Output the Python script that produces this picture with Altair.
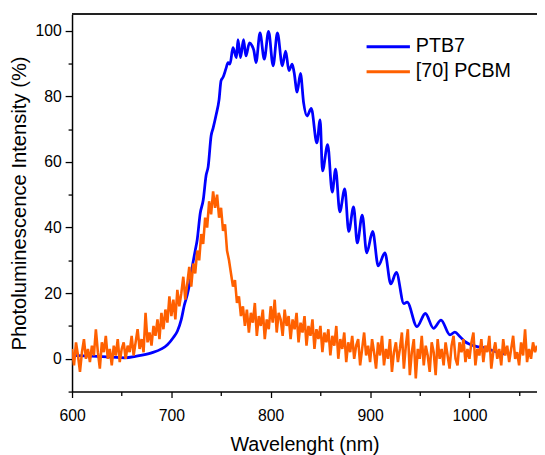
import altair as alt
import pandas as pd

# ---- data ----
series_names = ["PTB7", "[70] PCBM"]
series_colors = ["#0000FF", "#FF6000"]

ptb7_nm = [600, 620, 640, 653, 665, 680, 690, 696, 702, 706, 710, 713, 716, 718, 721, 724, 726, 729, 732, 735,
           737, 740, 742, 745, 748, 750, 752, 755, 757, 759, 762, 765.5, 767, 769.6, 772.6, 775, 778.6, 781, 783,
           785.2, 789.2, 793.5, 797.8, 802.4, 806.7, 811.7, 815, 818.3, 821.6, 823.5, 826.6, 829.9, 833.1, 836.5,
           840.8, 846.4, 849.7, 852.1, 857.3, 861.9, 865.3, 869.5, 874.5, 878.5, 883.4, 887.1, 892.1, 896.6,
           902.6, 908.2, 914.9, 920.8, 926.4, 934, 937.3, 947.2, 955.6, 963.8, 971.4, 980.4, 985.3, 990.3, 995.2,
           1006.7, 1016.7, 1025, 1035]
ptb7_val = [1.0, 0.8, 0.5, 0.3, 0.8, 1.8, 3.0, 4.3, 6.5, 8.4, 12, 16.3, 19.5, 22.3, 28, 33, 36.3, 44.3, 48.3, 56,
            58.5, 68, 70.3, 74.3, 79, 84.8, 85.8, 88.5, 90.3, 89.8, 94.8, 91.8, 97.3, 91.8, 97.3, 92.3, 96.3, 95.5, 94,
            90.3, 99.3, 91.3, 99.8, 89.3, 99.3, 89.3, 93.8, 87.8, 89.8, 87.3, 81.3, 87, 78, 74,
            76.3, 65.8, 72.8, 57.3, 65.3, 50.8, 57.8, 44.8, 51.8, 38.8, 46.3, 35.3, 43.8, 32.3,
            38.8, 28.3, 32.3, 22.8, 26.3, 16.8, 17.3, 9.8, 13.8, 9.3, 11.8, 7.3, 8.1, 6.8, 5.3,
            3.8, 3.3, 2.3, 1.5]

pcbm_nm = list(range(600, 1070, 2))
pcbm_val = [
    3, -2, 5, 1, -4, 2, 6, 0, 3, -1,
    4, 1, 9, 2, -3, 5, 2, 7, 0, 3,
    -2, 4, 1, 6, -1, 3, 5, 0, 4, 2,
    7, 1, 5, 9, 3, 6, 2, 14, 5, 8,
    4, 10, 7, 12, 6, 14, 9, 15, 11, 19,
    13, 18, 12, 21, 16, 20, 25, 18, 23, 28,
    22, 29, 26, 33, 30, 38, 35, 43, 40, 48,
    44, 51, 46, 50, 43, 46, 39, 41, 33, 30,
    26, 22, 24, 17, 19, 13, 16, 10, 15, 8,
    14, 11, 17, 7, 13, 10, 15, 6, 12, 9,
    16, 11, 18, 8, 14, 12, 7, 15, 10, 13,
    6, 12, 9, 14, 5, 11, 8, 13, 4, 10,
    7, 12, 3, 9, 6, 10, 2, 8, 5, 9,
    1, 7, 4, 10, 0, 6, 3, 8, -1, 5,
    2, 7, 0, 4, 6, -2, 3, 8, 1, 4,
    -1, 6, 2, -3, 5, 1, 7, -2, 3, 0,
    6, -4, 2, 5, -1, 3, 8, -3, 4, 9,
    -5, 2, 6, -6, 3, 0, 7, -2, 4, 1,
    -4, 5, 2, -5, 6, 0, 3, -2, 5, 1,
    -3, 4, 7, 0, -2, 5, 2, 6, -1, 3,
    0, 5, 8, -2, 3, 1, 6, -1, 4, 2,
    7, -3, 2, 5, 0, 3, -2, 6, 1, 4,
    -1, 3, 7, 0, 2, -2, 5, 1, 9, -1,
    3, 0, 5, 2, 4,
]

x_ticks = [600, 650, 700, 750, 800, 850, 900, 950, 1000, 1050]
y_major = [0, 20, 40, 60, 80, 100]
y_minor = [-10, 10, 30, 50, 70, 90]

df_ptb7 = pd.DataFrame({"nm": ptb7_nm, "val": ptb7_val, "series": series_names[0]})
df_pcbm = pd.DataFrame({"nm": pcbm_nm, "val": pcbm_val, "series": series_names[1]})

FONT = "Liberation Sans"
W, H = 472, 383

x_scale = alt.Scale(domain=[600, 1068], nice=False, zero=False)
y_scale = alt.Scale(domain=[-10, 105], nice=False, zero=False)
color_scale = alt.Scale(domain=series_names, range=series_colors)

x_axis = alt.Axis(
    title="Wavelenght (nm)", values=x_ticks, format="d",
    labelExpr="datum.value % 100 === 0 ? datum.label : ''", labelOverlap=False, labelFlush=False,
    grid=False, tickSize={"condition": {"test": "datum.value % 100 === 0", "value": 6}, "value": 4},
    tickColor="#000", tickWidth=1.3, domainColor="#000", domainWidth=1.5,
    labelFont=FONT, labelFontSize=16, labelColor="#000", labelPadding=10,
    titleFont=FONT, titleFontSize=20, titleFontWeight="normal", titleColor="#000", titlePadding=12,
)
y_axis = alt.Axis(
    title="Photoluminescence Intensity (%)", values=y_major, format="d", orient="left",
    labelOverlap=False, labelFlush=False, grid=False, tickSize=7,
    tickColor="#000", tickWidth=1.3, domainColor="#000", domainWidth=1.5,
    labelFont=FONT, labelFontSize=16, labelColor="#000", labelPadding=4,
    titleFont=FONT, titleFontSize=20.5, titleFontWeight="normal", titleColor="#000", titlePadding=6,
)
y_axis_minor = alt.Axis(
    title="", values=y_minor, orient="left", labels=False, grid=False, domain=False,
    tickSize=4, tickColor="#000", tickWidth=1.3,
)

blue = alt.Chart(df_ptb7).mark_line(strokeWidth=2.8, interpolate="monotone", clip=True).encode(
    x=alt.X("nm:Q", scale=x_scale, axis=x_axis),
    y=alt.Y("val:Q", scale=y_scale, axis=y_axis),
    color=alt.Color("series:N", scale=color_scale, legend=None),
)
orange = alt.Chart(df_pcbm).mark_line(strokeWidth=2.6, clip=True).encode(
    x=alt.X("nm:Q", scale=x_scale),
    y=alt.Y("val:Q", scale=y_scale, axis=y_axis_minor),
    color=alt.Color("series:N", scale=color_scale, legend=None),
)
top_border = alt.Chart(df_ptb7).mark_rule(color="#222", strokeWidth=1.5).encode(
    x=alt.value(0), x2=alt.value(W), y=alt.value(0)
)

# legend (decoration): swatch line + label for each series, coloured through the same scale
legend_layers = []
for i, name in enumerate(series_names):
    df_leg = pd.DataFrame({"series": [name]})
    ypix = 33 + i * 25.3
    legend_layers.append(
        alt.Chart(df_leg).mark_rule(strokeWidth=3).encode(
            x=alt.value(299), x2=alt.value(343), y=alt.value(ypix),
            color=alt.Color("series:N", scale=color_scale, legend=None),
        )
    )
    legend_layers.append(
        alt.Chart(df_leg).mark_text(font=FONT, fontSize=20, align="left", baseline="middle", color="#000").encode(
            x=alt.value(349), y=alt.value(ypix - 1), text="series:N",
        )
    )

chart = alt.layer(blue, orange, top_border, *legend_layers).resolve_scale(
    y="shared"
).resolve_axis(
    y="independent"
).properties(
    width=W, height=H,
    autosize=alt.AutoSizeParams(type="none"),
    padding={"left": 65, "top": 3, "right": 0, "bottom": 61},
    background="white",
).configure_view(strokeWidth=0)

chart.save("out.html", embed_options={"renderer": "svg", "actions": False})
